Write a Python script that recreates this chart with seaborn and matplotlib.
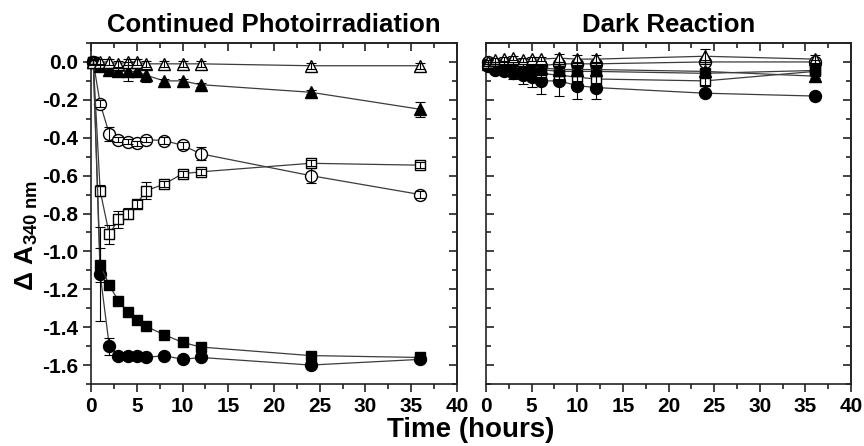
import matplotlib
matplotlib.use("Agg")
import matplotlib.pyplot as plt
import seaborn as sns
import pandas as pd
from matplotlib.ticker import MultipleLocator

# sampling times (hours)
hours = [0.25, 1, 2, 3, 4, 5, 6, 8, 10, 12, 24, 36]

# --- continued photoirradiation: ΔA340 and error ---
light_open_tri = [0.0, 0.0, 0.0, -0.01, 0.0, 0.0, -0.01, -0.01, -0.01, -0.01, -0.02, -0.02]
light_open_tri_err = [0.015] * 12
light_fill_tri = [0.0, -0.02, -0.04, -0.05, -0.05, -0.05, -0.07, -0.10, -0.10, -0.12, -0.16, -0.25]
light_fill_tri_err = [0.01, 0.01, 0.01, 0.02, 0.05, 0.02, 0.035, 0.01, 0.01, 0.01, 0.01, 0.04]
light_open_circ = [0.0, -0.22, -0.38, -0.41, -0.42, -0.43, -0.41, -0.415, -0.44, -0.485, -0.60, -0.70]
light_open_circ_err = [0.01, 0.02, 0.035, 0.015, 0.015, 0.015, 0.015, 0.02, 0.02, 0.035, 0.04, 0.02]
light_open_sq = [0.0, -0.68, -0.91, -0.83, -0.80, -0.75, -0.68, -0.645, -0.59, -0.58, -0.535, -0.545]
light_open_sq_err = [0.01, 0.03, 0.05, 0.045, 0.03, 0.02, 0.045, 0.015, 0.015, 0.015, 0.015, 0.015]
light_fill_sq = [0.0, -1.07, -1.18, -1.26, -1.32, -1.36, -1.395, -1.44, -1.48, -1.505, -1.55, -1.56]
light_fill_sq_err = [0.01, 0.09, 0.01, 0.01, 0.01, 0.01, 0.01, 0.01, 0.01, 0.01, 0.01, 0.01]
light_fill_circ = [0.0, -1.12, -1.50, -1.55, -1.55, -1.55, -1.56, -1.55, -1.57, -1.56, -1.60, -1.57]
light_fill_circ_err = [0.01, 0.25, 0.045, 0.01, 0.01, 0.01, 0.01, 0.01, 0.01, 0.01, 0.01, 0.01]

# --- dark reaction: ΔA340 and error ---
dark_open_tri = [0.0, 0.01, 0.015, 0.02, 0.01, 0.015, 0.015, 0.02, 0.015, 0.015, 0.03, 0.015]
dark_open_tri_err = [0.01, 0.01, 0.01, 0.01, 0.01, 0.01, 0.01, 0.02, 0.02, 0.02, 0.04, 0.02]
dark_fill_tri = [-0.01, -0.02, -0.02, -0.03, -0.03, -0.03, -0.03, -0.04, -0.04, -0.04, -0.05, -0.075]
dark_fill_tri_err = [0.01] * 12
dark_open_circ = [0.0, -0.01, -0.01, -0.01, -0.02, -0.02, -0.02, -0.01, -0.01, -0.01, 0.0, 0.0]
dark_open_circ_err = [0.01] * 12
dark_open_sq = [-0.01, -0.02, -0.03, -0.04, -0.05, -0.05, -0.06, -0.07, -0.08, -0.09, -0.10, -0.05]
dark_open_sq_err = [0.01, 0.01, 0.01, 0.01, 0.01, 0.01, 0.02, 0.02, 0.02, 0.02, 0.02, 0.02]
dark_fill_sq = [-0.01, -0.02, -0.03, -0.03, -0.04, -0.04, -0.04, -0.05, -0.05, -0.05, -0.06, -0.045]
dark_fill_sq_err = [0.01] * 12
dark_fill_circ = [-0.02, -0.04, -0.05, -0.06, -0.07, -0.08, -0.10, -0.10, -0.125, -0.135, -0.165, -0.18]
dark_fill_circ_err = [0.01, 0.02, 0.02, 0.03, 0.045, 0.05, 0.07, 0.08, 0.07, 0.06, 0.01, 0.01]

panel_titles = ["Continued Photoirradiation", "Dark Reaction"]
x_label = "Time (hours)"

sns.set_theme(style="ticks")
plt.rcParams["font.family"] = ["Liberation Sans", "DejaVu Sans"]
plt.rcParams["font.weight"] = "bold"
plt.rcParams["text.color"] = "black"
plt.rcParams["axes.labelcolor"] = "black"
plt.rcParams["mathtext.fontset"] = "custom"
plt.rcParams["mathtext.rm"] = "Liberation Sans:bold"
plt.rcParams["mathtext.bf"] = "Liberation Sans:bold"
plt.rcParams["mathtext.it"] = "Liberation Sans:bold:italic"
plt.rcParams["axes.linewidth"] = 1.2

# (marker, face, size) per series, drawing order back to front
styles = {
    "open_circ": ("o", "white", 8.6),
    "fill_circ": ("o", "black", 8.6),
    "open_sq": ("s", "white", 7.6),
    "fill_sq": ("s", "black", 7.6),
    "fill_tri": ("^", "black", 9.2),
    "open_tri": ("^", "white", 9.2),
}

light = {
    "open_tri": (light_open_tri, light_open_tri_err),
    "fill_tri": (light_fill_tri, light_fill_tri_err),
    "open_circ": (light_open_circ, light_open_circ_err),
    "open_sq": (light_open_sq, light_open_sq_err),
    "fill_sq": (light_fill_sq, light_fill_sq_err),
    "fill_circ": (light_fill_circ, light_fill_circ_err),
}
dark = {
    "open_tri": (dark_open_tri, dark_open_tri_err),
    "fill_tri": (dark_fill_tri, dark_fill_tri_err),
    "open_circ": (dark_open_circ, dark_open_circ_err),
    "open_sq": (dark_open_sq, dark_open_sq_err),
    "fill_sq": (dark_fill_sq, dark_fill_sq_err),
    "fill_circ": (dark_fill_circ, dark_fill_circ_err),
}

W, H = 864, 446
fig = plt.figure(figsize=(W / 100, H / 100), dpi=100)
fig.patch.set_facecolor("white")
ax_l = fig.add_axes([91 / W, (H - 384) / H, 366 / W, 341 / H])
ax_r = fig.add_axes([486 / W, (H - 384) / H, 365 / W, 341 / H])


def draw_panel(ax, series):
    for key in styles:
        vals, errs = series[key]
        marker, face, size = styles[key]
        df = pd.DataFrame({"t": hours, "v": vals})
        sns.lineplot(data=df, x="t", y="v", ax=ax, sort=False, errorbar=None,
                     color="#3c3c3c", linewidth=0.9, marker=marker,
                     markersize=size, markerfacecolor=face,
                     markeredgecolor="black", markeredgewidth=1.0,
                     zorder=3, clip_on=False)
        eb = ax.errorbar(hours, vals, yerr=errs, fmt="none", ecolor="black",
                         elinewidth=0.8, capsize=3.5, capthick=0.8, zorder=4)
        for art in eb.lines[1] + eb.lines[2]:
            art.set_clip_on(False)


def style_axes(ax, left_labels):
    ax.set_xlim(0, 40)
    ax.set_ylim(-1.7, 0.1)
    ax.set_xlabel("")
    ax.set_ylabel("")
    ax.xaxis.set_major_locator(MultipleLocator(5))
    ax.xaxis.set_minor_locator(MultipleLocator(2.5))
    ax.yaxis.set_major_locator(MultipleLocator(0.2))
    ax.yaxis.set_minor_locator(MultipleLocator(0.1))
    ax.yaxis.set_major_formatter(plt.FuncFormatter(lambda v, p: f"{v:.1f}".replace("-0.0", "0.0")))
    for s in ax.spines.values():
        s.set_visible(True)
        s.set_linewidth(1.2)
        s.set_color("#222222")
    ax.tick_params(axis="x", which="both", direction="out", labelsize=15,
                   width=1.2, colors="#222222", labelcolor="black", pad=3)
    ax.tick_params(axis="x", which="major", length=6)
    ax.tick_params(axis="x", which="minor", length=3.5)
    ydir = "out" if left_labels else "in"
    ax.tick_params(axis="y", which="both", direction=ydir, labelsize=15,
                   width=1.2, colors="#222222", labelcolor="black",
                   labelleft=left_labels, pad=3)
    ax.tick_params(axis="y", which="major", length=6)
    ax.tick_params(axis="y", which="minor", length=3.5)
    for lab in ax.get_xticklabels() + ax.get_yticklabels():
        lab.set_fontweight("bold")

    top = ax.secondary_xaxis("top")
    top.xaxis.set_major_locator(MultipleLocator(5))
    top.xaxis.set_minor_locator(MultipleLocator(2.5))
    top.tick_params(which="both", direction="in", labeltop=False, width=1.2,
                    colors="#222222")
    top.tick_params(which="major", length=6)
    top.tick_params(which="minor", length=3.5)
    top.spines["top"].set_linewidth(1.2)

    right = ax.secondary_yaxis("right")
    right.yaxis.set_major_locator(MultipleLocator(0.2))
    right.yaxis.set_minor_locator(MultipleLocator(0.1))
    right.tick_params(which="both", direction="in", labelright=False, width=1.2,
                      colors="#222222")
    right.tick_params(which="major", length=6)
    right.tick_params(which="minor", length=3.5)
    right.spines["right"].set_linewidth(1.2)


draw_panel(ax_l, light)
draw_panel(ax_r, dark)
style_axes(ax_l, True)
style_axes(ax_r, False)

for ax, title in zip((ax_l, ax_r), panel_titles):
    ax.set_title(title, fontsize=18.5, fontweight="bold", pad=8, color="black")

fig.text(471 / W, 1 - 430 / H, x_label, ha="center", va="center",
         fontsize=20, fontweight="bold", color="black")
fig.text(27 / W, 1 - 236 / H, r"$\Delta\ \mathbf{A}_{\mathbf{340\ nm}}$",
         rotation=90, ha="center", va="center", fontsize=19, color="black")

fig.savefig("out.png", dpi=100, facecolor="white")
